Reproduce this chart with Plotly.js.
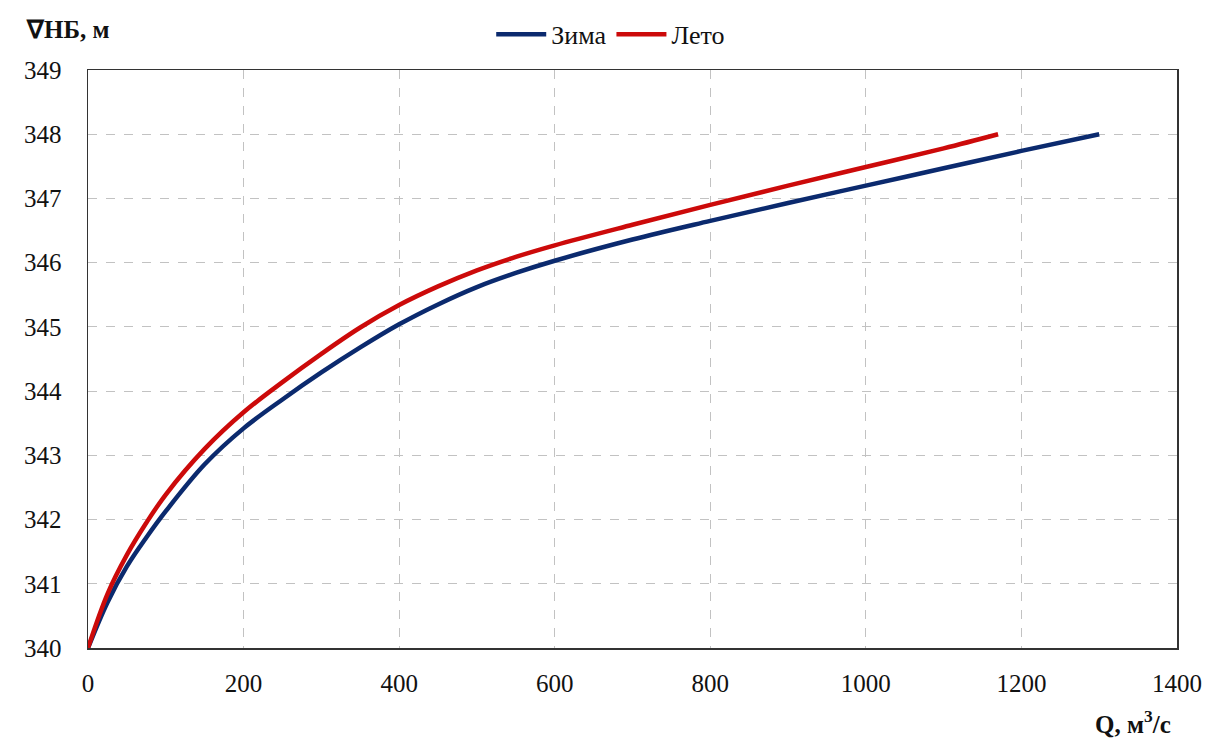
<!DOCTYPE html>
<html>
<head>
<meta charset="utf-8">
<script src="https://cdn.plot.ly/plotly-3.0.1.min.js"></script>
<style>html,body{margin:0;padding:0;background:#fff;}#chart{width:1208px;height:754px;}</style>
</head>
<body>
<div id="chart"></div>
<script>
// Зима (winter) rating curve
const qWinter = [0, 25, 50, 75, 100, 150, 200, 250, 300, 350, 400, 450, 500, 550, 600, 700, 800, 900, 1000, 1100, 1200, 1300];
const hWinter = [340, 340.71, 341.27, 341.72, 342.13, 342.86, 343.42, 343.87, 344.29, 344.68, 345.04, 345.35, 345.62, 345.84, 346.03, 346.36, 346.65, 346.93, 347.20, 347.47, 347.74, 348.00];
// Лето (summer) rating curve
const qSummer = [0, 25, 50, 75, 100, 150, 200, 250, 300, 350, 400, 450, 500, 550, 600, 700, 800, 900, 1000, 1100, 1170];
const hSummer = [340, 340.84, 341.45, 341.95, 342.39, 343.10, 343.67, 344.14, 344.58, 344.99, 345.34, 345.63, 345.88, 346.09, 346.27, 346.59, 346.90, 347.20, 347.49, 347.78, 348.00];

const seriesNames = ['Зима', 'Лето'];
const xTicks = [0, 200, 400, 600, 800, 1000, 1200, 1400];
const yTicks = [340, 341, 342, 343, 344, 345, 346, 347, 348, 349];

const serif = 'Liberation Serif, Times New Roman, serif';

const traces = [
  {x: qWinter, y: hWinter, name: seriesNames[0], mode: 'lines',
   line: {color: '#0b2a6e', width: 4.5, shape: 'spline', smoothing: 1}},
  {x: qSummer, y: hSummer, name: seriesNames[1], mode: 'lines',
   line: {color: '#cc0a0a', width: 4.5, shape: 'spline', smoothing: 1}}
];

const layout = {
  width: 1208, height: 754,
  margin: {l: 88, r: 31, t: 69, b: 106},
  paper_bgcolor: '#fff', plot_bgcolor: '#fff',
  font: {family: serif, size: 25, color: '#111'},
  showlegend: true,
  legend: {orientation: 'h', x: 0.48, xanchor: 'center', y: 1.06, yanchor: 'middle',
           font: {family: serif, size: 26, color: '#111'}, traceorder: 'normal', itemwidth: 50},
  xaxis: {range: [0, 1400], tickvals: xTicks, ticktext: xTicks.map(String),
          showgrid: true, gridcolor: '#c2c2c2', griddash: 'dash', gridwidth: 1,
          showline: true, linecolor: '#333', linewidth: 1.5, mirror: true,
          ticks: '', ticklabelstandoff: 12, zeroline: false,
          tickfont: {family: serif, size: 25, color: '#111'}},
  yaxis: {range: [340, 349], tickvals: yTicks, ticktext: yTicks.map(String),
          showgrid: true, gridcolor: '#c2c2c2', griddash: 'dash', gridwidth: 1,
          showline: true, linecolor: '#333', linewidth: 1.5, mirror: true,
          ticks: '', ticklabelstandoff: 20, zeroline: false,
          tickfont: {family: serif, size: 25, color: '#111'}},
  annotations: [
    {text: '<b>∇НБ, м</b>', xref: 'paper', yref: 'paper', x: -0.059, y: 1.07,
     xanchor: 'left', yanchor: 'middle', showarrow: false,
     font: {family: serif, size: 25, color: '#111'}},
    {text: '<b>Q, м<sup>3</sup>/с</b>', xref: 'paper', yref: 'paper', x: 0.996, y: -0.128,
     xanchor: 'right', yanchor: 'middle', showarrow: false,
     font: {family: serif, size: 25, color: '#111'}}
  ]
};

Plotly.newPlot('chart', traces, layout, {displayModeBar: false, staticPlot: true});
</script>
</body>
</html>
